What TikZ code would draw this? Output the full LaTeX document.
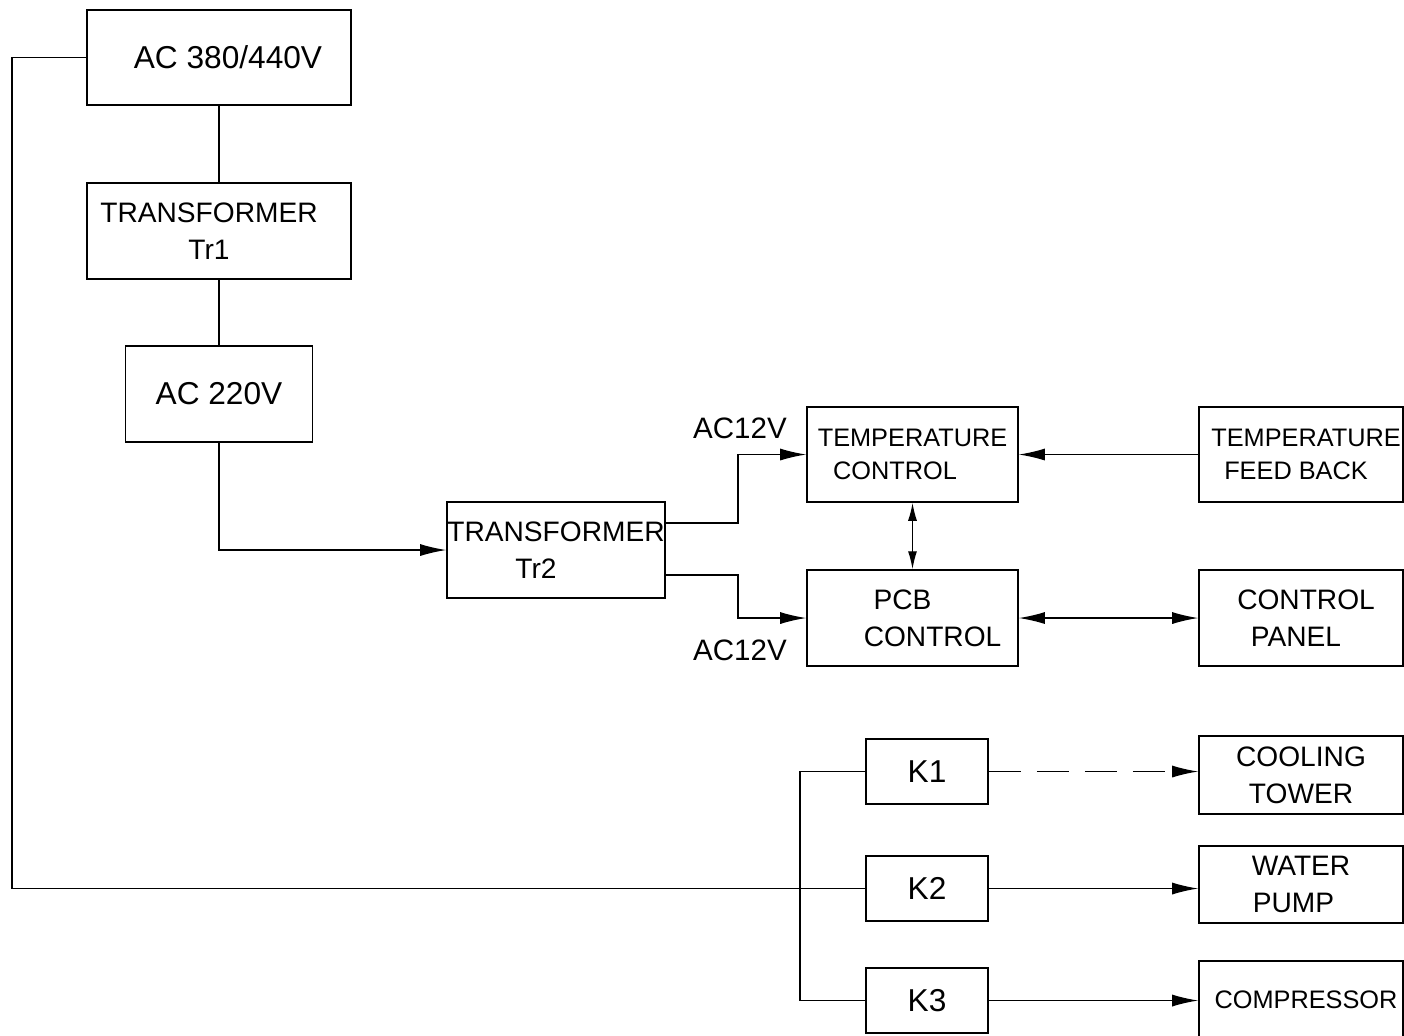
\documentclass[tikz,border=0pt]{standalone}
\usepackage{fontspec}
\setmainfont{Liberation Sans}
\usetikzlibrary{arrows.meta}
\begin{document}
\begin{tikzpicture}[x=0.01cm,y=-0.01cm,
		block/.style={draw,inner sep=0pt,align=center,font=\fontsize{8}{10.5}\selectfont},
		big/.style={font=\fontsize{9}{11}\selectfont},
		small/.style={font=\fontsize{7.2}{9.5}\selectfont},
		lbl/.style={font=\fontsize{8.4}{10}\selectfont},
		arr/.style={-{Latex[length=0.26cm,width=0.12cm]}},
		darr/.style={{Latex[length=0.26cm,width=0.12cm]}-{Latex[length=0.26cm,width=0.12cm]}}]
			\useasboundingbox (0,0) rectangle (1404,1035);
			% supply chain
			\node[block,big,minimum width=2.64cm,minimum height=0.95cm] (ac380) at (219,57.5) {\hspace*{0.18cm}AC 380/440V};
			\node[block,minimum width=2.64cm,minimum height=0.96cm] (trI) at (219,231) {TRANSFORMER\hspace*{0.2cm}\\Tr1\hspace*{0.2cm}};
			\node[block,big,minimum width=1.87cm,minimum height=0.96cm] (ac220) at (219,394) {AC 220V};
			\node[block,minimum width=2.18cm,minimum height=0.96cm] (trII) at (556,550) {TRANSFORMER\\Tr2\hspace*{0.4cm}};
			% control part
			\node[block,small,minimum width=2.11cm,minimum height=0.95cm] (tempctrl) at (912.5,454.5) {TEMPERATURE\\CONTROL\hspace*{0.35cm}};
			\node[block,minimum width=2.11cm,minimum height=0.96cm] (pcb) at (912.5,618) {\hspace*{0.2cm}PCB\hspace*{0.4cm}\\\hspace*{0.4cm}CONTROL};
			\node[block,small,minimum width=2.04cm,minimum height=0.95cm] (tempfb) at (1301,454.5) {\hspace*{0.1cm}TEMPERATURE\\FEED BACK\hspace*{0.1cm}};
			\node[block,minimum width=2.04cm,minimum height=0.96cm] (panel) at (1301,618) {\hspace*{0.1cm}CONTROL\\PANEL\hspace*{0.1cm}};
			\node[lbl] (acI) at (740,428) {AC12V};
			\node[lbl] (acII) at (740,650) {AC12V};
			% contactors and loads
			\node[block,big,minimum width=1.22cm,minimum height=0.65cm] (kI) at (927,771.5) {K1};
			\node[block,big,minimum width=1.22cm,minimum height=0.65cm] (kII) at (927,888.5) {K2};
			\node[block,big,minimum width=1.22cm,minimum height=0.65cm] (kIII) at (927,1000.5) {K3};
			\node[block,minimum width=2.04cm,minimum height=0.78cm] (cooling) at (1301,775) {COOLING\\TOWER};
			\node[block,minimum width=2.04cm,minimum height=0.77cm] (pump) at (1301,884.5) {WATER\\PUMP\hspace*{0.15cm}};
			\node[block,small,minimum width=2.04cm,minimum height=0.78cm] (compressor) at (1301,1000) {\hspace*{0.1cm}COMPRESSOR};
			\coordinate (feed) at (12,57.5);
			\coordinate (busI) at (800,771.5);
			\coordinate (splitI) at (738,523);
			\coordinate (splitII) at (738,575);
			\draw (ac380) -- (trI);
			\draw (trI) -- (ac220);
			\draw[arr] (ac220.south) |- (trII.west);
			\draw[arr] (trII.east |- splitI) -- (splitI) |- (tempctrl.west);
			\draw[arr] (trII.east |- splitII) -- (splitII) |- (pcb.west);
			\draw[{Latex[length=0.18cm,width=0.09cm]}-{Latex[length=0.18cm,width=0.09cm]}] (tempctrl) -- (pcb);
			\draw[arr] (tempfb) -- (tempctrl);
			\draw[darr] (pcb) -- (panel);
			\draw (ac380.west) -- (feed) |- (kII.west);
			\draw (kI.west) -- (busI) |- (kIII.west);
			\draw[arr,dash pattern=on 0.32cm off 0.16cm] (kI.east) -- (kI.east -| cooling.west);
			\draw[arr] (kII.east) -- (kII.east -| pump.west);
			\draw[arr] (kIII.east) -- (kIII.east -| compressor.west);
		\end{tikzpicture}
\end{document}
